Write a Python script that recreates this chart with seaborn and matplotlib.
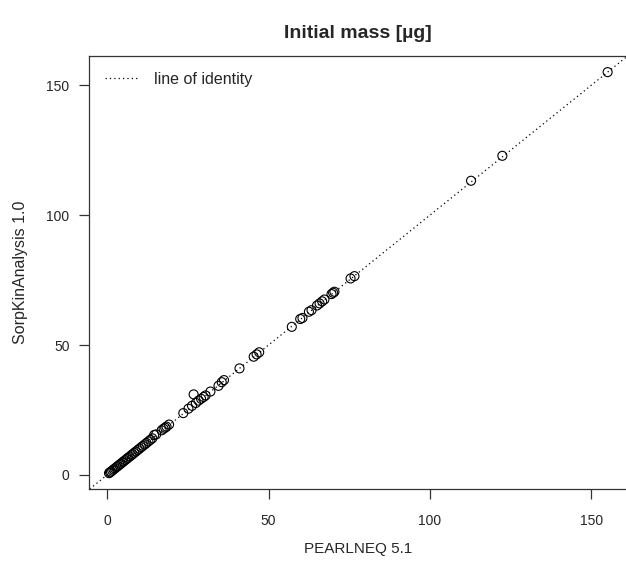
import numpy as np
import pandas as pd
import matplotlib
matplotlib.use("Agg")
import matplotlib.pyplot as plt
import seaborn as sns

# Valores (masa inicial, µg)
pearlneq = [0.6, 0.9, 1.2, 1.6, 2.0, 2.4, 2.9, 3.3, 3.8, 4.2, 4.7, 5.1, 5.6,
            6.1, 6.5, 7.0, 7.5, 7.9, 8.4, 8.9, 9.5, 10.0, 10.6, 11.1, 11.7,
            12.2, 12.8, 13.4, 14.0, 14.6, 15.2, 16.9, 17.5, 18.0, 18.4, 19.2,
            23.6, 25.2, 26.3, 26.8, 27.5, 28.3, 29.1, 29.9, 30.5, 32.0, 34.5,
            35.5, 36.2, 41.0, 45.4, 46.3, 47.1, 57.2, 59.8, 60.5, 62.5, 63.3,
            65.0, 65.8, 66.6, 67.3, 69.5, 70.0, 70.4, 75.4, 76.6, 112.7,
            122.4, 155.0]
sorpkin = [0.7, 1.0, 1.3, 1.7, 2.1, 2.5, 3.0, 3.4, 3.9, 4.3, 4.8, 5.2, 5.7,
           6.2, 6.6, 7.1, 7.6, 8.0, 8.5, 9.0, 9.6, 10.1, 10.7, 11.2, 11.8,
           12.3, 12.9, 13.5, 14.1, 15.4, 15.6, 17.2, 17.8, 18.2, 18.6, 19.4,
           23.8, 25.5, 26.6, 31.0, 27.7, 28.6, 29.3, 30.0, 30.6, 32.1, 34.3,
           35.7, 36.5, 41.0, 45.5, 46.4, 47.2, 57.0, 60.0, 60.4, 62.8, 63.4,
           65.2, 66.0, 66.8, 67.5, 69.6, 70.1, 70.5, 75.6, 76.5, 113.2,
           122.8, 155.0]

df = pd.DataFrame({"PEARLNEQ 5.1": pearlneq, "SorpKinAnalysis 1.0": sorpkin})

sns.set_style("white")
plt.rcParams["font.family"] = ["Liberation Sans", "DejaVu Sans"]

fig = plt.figure(figsize=(6.26, 5.70), dpi=100)
ax = fig.add_axes([89 / 626, 1 - 489 / 570, (627 - 89) / 626, (489 - 56) / 570])

sns.scatterplot(data=df, x="PEARLNEQ 5.1", y="SorpKinAnalysis 1.0", ax=ax,
                marker="o", s=42, facecolors="none", edgecolor="black",
                linewidth=0.8, zorder=3)

# Línea de identidad
ax.axline((0, 0), slope=1, color="black", lw=0.9, ls=(0, (1, 2.5)),
          label="line of identity")

ax.set_xlim(-5.6, 161.0)
ax.set_ylim(-5.4, 161.2)
ax.set_xticks([0, 50, 100, 150])
ax.set_yticks([0, 50, 100, 150])

for s in ax.spines.values():
    s.set_visible(True)
    s.set_color("#333333")
    s.set_linewidth(0.9)

ax.tick_params(axis="both", direction="out", length=7, width=0.9,
               color="#333333", labelsize=10, bottom=True, left=True)
ax.tick_params(axis="x", pad=11)
ax.tick_params(axis="y", pad=7)

ax.set_xlabel("PEARLNEQ 5.1", fontsize=11, labelpad=10)
ax.set_ylabel("SorpKinAnalysis 1.0", fontsize=11.5, labelpad=13)
ax.set_title("Initial mass [µg]", fontsize=14, fontweight="bold", pad=13)

ax.legend(loc="upper left", frameon=False, fontsize=11.5, handlelength=2.0,
          handletextpad=1.1, borderaxespad=0.6)

fig.savefig("out.png", dpi=100)
